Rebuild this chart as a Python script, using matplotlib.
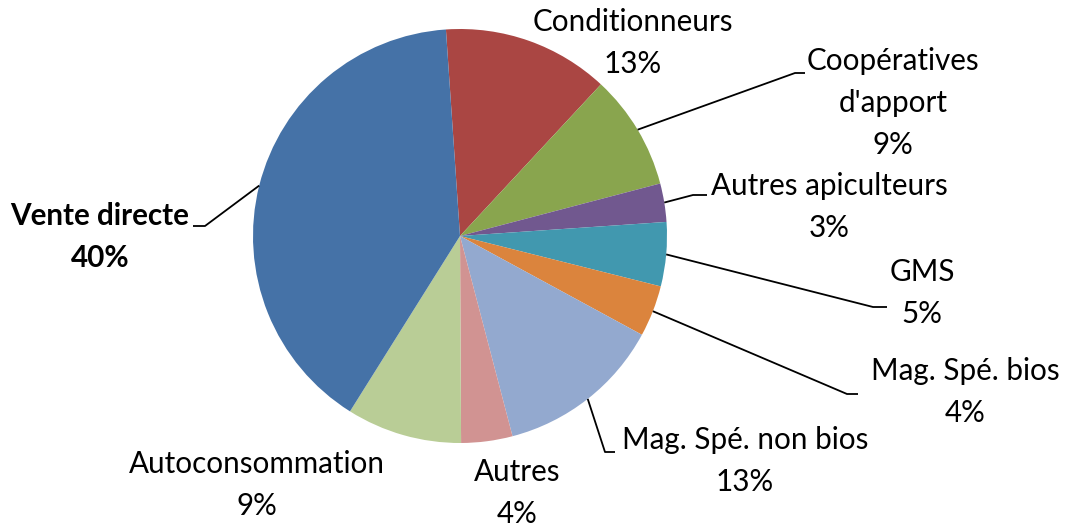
import numpy as np
import matplotlib
matplotlib.use("Agg")
import matplotlib.pyplot as plt

categories = ["Conditionneurs", "Coopératives\nd'apport", "Autres apiculteurs", "GMS",
              "Mag. Spé. bios", "Mag. Spé. non bios", "Autres", "Autoconsommation", "Vente directe"]
values = [13, 9, 3, 5, 4, 13, 4, 9, 40]
colors = ["#AA4643", "#89A54E", "#71588F", "#4198AF", "#DB843D",
          "#93A9CF", "#D19392", "#B9CD96", "#4572A7"]

W, H = 1077, 523
fig = plt.figure(figsize=(W / 100, H / 100), dpi=100)
ax = fig.add_axes([0, 0, 1, 1])

cx, cy, R = 460, H - 236, 207
start = 93.9
wedges, _ = ax.pie(values, colors=colors, startangle=start, counterclock=False,
                   center=(cx, cy), radius=R, frame=True,
                   wedgeprops=dict(linewidth=0))
ax.set_xlim(0, W)
ax.set_ylim(0, H)
ax.set_aspect("equal")
ax.axis("off")

# label layout: (center x, center y in pixels from top), leader bend points (pixels) or None
layout = [
    ((633, 43), None),
    ((893, 103), [(795, 73), (805, 73)]),
    ((829, 207), [(693, 195), (707, 195)]),
    ((922, 293), [(873, 307), (887, 307)]),
    ((965, 392), [(847, 394), (858, 394)]),
    ((745, 461), [(605, 452), (615, 452)]),
    ((517, 493), None),
    ((257, 485), None),
    ((100, 237), [(205, 226), (193, 226)]),
]

font = ["Lato", "DejaVu Sans"]
for w, cat, val, (pos, bends) in zip(wedges, categories, values, layout):
    mid = np.deg2rad((w.theta1 + w.theta2) / 2)
    text = f"{cat}\n{val}%"
    bold = cat == "Vente directe"
    ax.text(pos[0], H - pos[1], text, ha="center", va="center", fontsize=21.3,
            family=font, fontweight="bold" if bold else "normal",
            linespacing=1.62, color="black")
    if bends:
        xs = [cx + R * np.cos(mid)] + [b[0] for b in bends]
        ys = [cy + R * np.sin(mid)] + [H - b[1] for b in bends]
        ax.plot(xs, ys, color="black", linewidth=1.3, solid_capstyle="butt")

fig.savefig("out.png", dpi=100)
